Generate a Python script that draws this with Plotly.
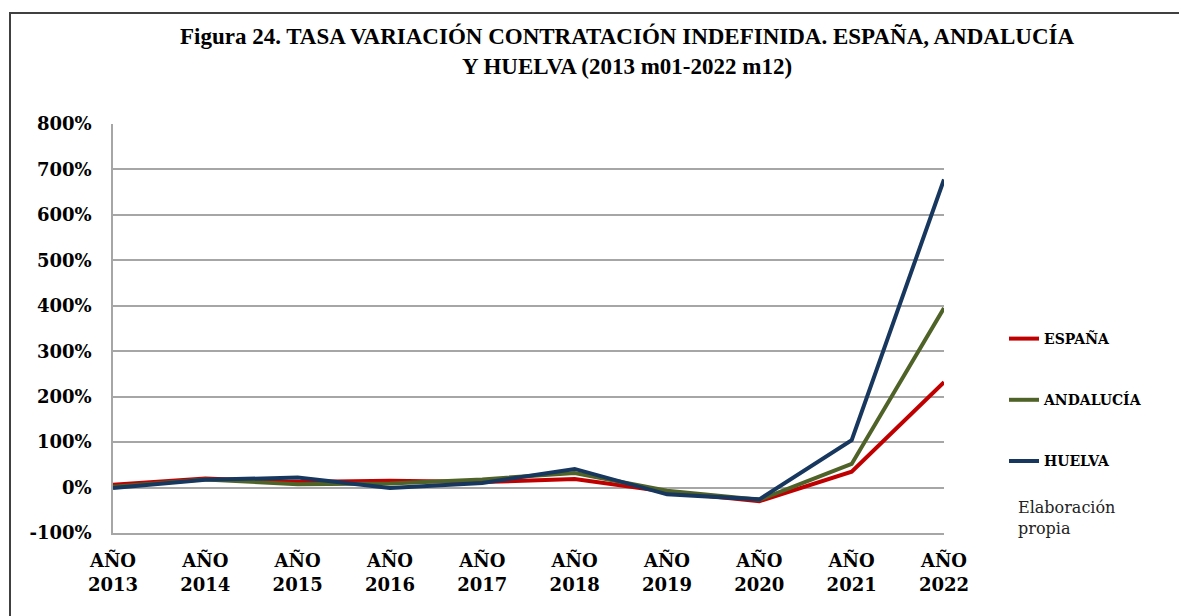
import plotly.graph_objects as go

years = ["AÑO<br>2013", "AÑO<br>2014", "AÑO<br>2015", "AÑO<br>2016", "AÑO<br>2017",
         "AÑO<br>2018", "AÑO<br>2019", "AÑO<br>2020", "AÑO<br>2021", "AÑO<br>2022"]
espana = [6, 20, 12, 15, 12, 19, -9, -30, 35, 232]
andalucia = [2, 18, 7, 9, 18, 32, -7, -27, 52, 395]
huelva = [-1, 17, 22, -1, 10, 41, -15, -26, 104, 678]
y_ticks = [-100, 0, 100, 200, 300, 400, 500, 600, 700, 800]
y_labels = ["-100%", "0%", "100%", "200%", "300%", "400%", "500%", "600%", "700%", "800%"]

series = [("ESPAÑA", espana, "#C00000"),
          ("ANDALUCÍA", andalucia, "#4F6228"),
          ("HUELVA", huelva, "#17375E")]

W, H = 1187, 616
OFF = 8  # page body margin offset
L, R, T, B = 113 - OFF, 944 - OFF, 124 - OFF, 533 - OFF  # plot area in figure pixels


def px(x):
    return (x - OFF - L) / (R - L)


def py(y):
    return (B - (y - OFF)) / (B - T)


fig = go.Figure()
for i, (name, vals, col) in enumerate(series):
    fig.add_trace(go.Scatter(x=years, y=vals, name=name, mode="lines",
                             line=dict(color=col, width=4),
                             legendgroup=f"g{i}"))

serif = "DejaVu Serif"
fig.update_layout(
    width=W, height=H,
    margin=dict(l=L, r=W - R, t=T, b=H - B, autoexpand=False),
    plot_bgcolor="white", paper_bgcolor="white",
    title=dict(text="Figura 24. TASA VARIACIÓN CONTRATACIÓN INDEFINIDA. ESPAÑA, ANDALUCÍA<br>Y HUELVA (2013 m01-2022 m12)",
               x=px(627), xref="paper", xanchor="center", y=1 - (44 - OFF) / H, yanchor="middle",
               font=dict(family="Liberation Serif", size=23, color="black", weight="bold")),
    showlegend=True,
    legend=dict(x=px(1004), y=py(323), xanchor="left", yanchor="top",
                font=dict(family=serif, size=14, color="black", weight="bold"),
                tracegroupgap=40, bgcolor="rgba(0,0,0,0)"),
    xaxis=dict(type="category", range=[0, len(years) - 1], showgrid=False,
               showline=True, linecolor="#A6A6A6", linewidth=1.5,
               tickfont=dict(family=serif, size=18, color="black", weight="bold"),
               ticks="", ticklabelstandoff=11, fixedrange=True),
    yaxis=dict(range=[-100, 800], tickvals=y_ticks, ticktext=y_labels,
               showgrid=True, gridcolor="#A6A6A6", gridwidth=1.5,
               showline=True, linecolor="#A6A6A6", linewidth=1.5,
               zeroline=False,
               tickfont=dict(family=serif, size=18, color="black", weight="bold"),
               ticks="", ticklabelstandoff=16, fixedrange=True),
    shapes=[dict(type="rect", xref="paper", yref="paper",
                 x0=px(10), x1=px(1220), y0=py(640), y1=py(13),
                 line=dict(color="#404040", width=2), fillcolor="rgba(0,0,0,0)",
                 layer="above")],
    annotations=[dict(text="Elaboración<br>propia", xref="paper", yref="paper",
                      x=px(1016), y=py(518), xanchor="left", yanchor="middle",
                      align="left", showarrow=False,
                      font=dict(family=serif, size=16, color="#222222"))],
)

fig.write_html("out.html")
